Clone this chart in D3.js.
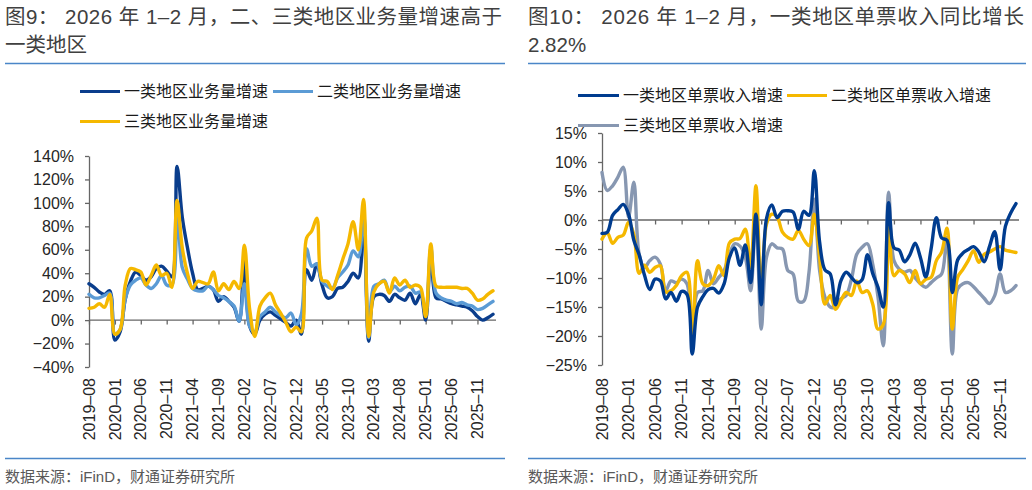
<!DOCTYPE html>
<html>
<head>
<meta charset="utf-8">
<script src="https://cdn.jsdelivr.net/npm/d3@7"></script>
<style>
  html, body { margin: 0; padding: 0; background: #ffffff; }
  svg { display: block; }
</style>
</head>
<body>
<script>
// ---------------- DATA ----------------
const months = [
  "2019-08","2019-09","2019-10","2019-11","2019-12",
  "2020-01","2020-02","2020-03","2020-04","2020-05","2020-06","2020-07","2020-08","2020-09","2020-10","2020-11","2020-12",
  "2021-01","2021-02","2021-03","2021-04","2021-05","2021-06","2021-07","2021-08","2021-09","2021-10","2021-11","2021-12",
  "2022-01","2022-02","2022-03","2022-04","2022-05","2022-06","2022-07","2022-08","2022-09","2022-10","2022-11","2022-12",
  "2023-01","2023-02","2023-03","2023-04","2023-05","2023-06","2023-07","2023-08","2023-09","2023-10","2023-11","2023-12",
  "2024-01","2024-02","2024-03","2024-04","2024-05","2024-06","2024-07","2024-08","2024-09","2024-10","2024-11","2024-12",
  "2025-01","2025-02","2025-03","2025-04","2025-05","2025-06","2025-07","2025-08","2025-09","2025-10","2025-11","2025-12",
  "2026-01","2026-02"
];
const xTickLabels = ["2019-08","2020-01","2020-06","2020-11","2021-04","2021-09","2022-02","2022-07",
  "2022-12","2023-05","2023-10","2024-03","2024-08","2025-01","2025-06","2025-11"];

// Left chart: business volume growth (%)
const volumeTier1 = [31,28,24,22,25,-17,-10,18,33,41,38,34,37,44,46,42,37,131,88,62,40,26,27,29,26,16,20,16,11,-1,
  50,-5,-12,0,5,7,4,1,-2,-5,0,-12,43,34,48,30,19,20,27,28,33,40,36,92,-18,20,22,21,16,22,19,17,23,14,22,0,55,19,18,16,14,13,12,11,8,3,0,2,5];
const volumeTier2 = [22,19,19,21,23,-12,-8,18,30,34,36,30,27,31,38,30,30,95,45,35,27,25,25,29,26,21,19,16,12,-1,
  31,-5,-10,3,7,11,7,4,2,6,-4,5,61,46,48,33,29,27,36,41,47,59,54,88,-15,29,31,34,24,29,25,28,29,23,24,5,62,23,19,17,16,14,15,13,12,9,10,13,16];
const volumeTier3 = [10,11,14,11,22,-12,-8,30,44,43,41,30,38,47,38,40,28,102,62,40,27,33,32,31,41,25,31,26,33,27,
  64,10,-14,12,19,23,13,6,-2,-10,-6,-10,70,76,87,34,33,26,38,52,65,84,60,103,-14,24,31,33,23,36,30,34,28,30,28,3,65,29,28,28,28,28,27,27,23,17,18,22,25];
const volumeTicks = [-40,-20,0,20,40,60,80,100,120,140];

// Right chart: revenue per parcel growth (%)
const revenueTier1 = [-2.3,-2.1,0.8,1.8,2.7,1.0,-3.5,-6.0,-9.5,-12.0,-10.2,-10.5,-13.6,-12.5,-14.0,-12.3,-12.8,-23.1,-15.0,-13.2,
  -12.0,-11.8,-12.6,-11.0,-6.5,-4.8,-7.8,-4.3,-10.8,1.0,-14.6,0.3,2.6,0.4,1.5,1.6,1.4,-1.6,1.5,0.8,8.5,-3.8,-8.6,-9.3,-14.6,
  -10.5,-9.0,-9.9,-10.8,-10.3,-6.0,-9.2,-11.6,-15.0,3.0,-4.8,-5.2,-7.2,-6.0,-4.0,-6.5,-9.8,-5.0,0.4,-3.1,-3.5,-12.5,-6.9,
  -5.7,-5.1,-4.6,-5.5,-7.2,-4.6,-2.0,-8.6,-1.1,1.2,2.82];
const revenueTier2 = [-3.3,-2.2,-4.0,-3.0,-2.6,-0.4,-2.5,-9.2,-7.8,-9.0,-8.2,-7.9,-12.4,-12.2,-11.3,-9.6,-9.0,-20.8,-7.0,-11.0,
  -11.3,-10.2,-7.9,-9.6,-4.0,-3.3,-3.2,-1.6,-8.2,5.9,-12.2,-0.7,1.0,0.5,-2.1,-3.0,-3.3,-1.8,-3.3,-4.4,1.0,-6.4,-14.5,-13.0,-15.4,
  -13.9,-12.5,-13.0,-10.5,-12.5,-12.2,-14.5,-18.8,-18.0,0.0,-9.6,-8.7,-9.3,-10.8,-8.7,-11.0,-10.2,-9.9,-7.0,-5.5,-1.4,-18.8,-9.9,
  -8.5,-7.0,-5.3,-7.3,-5.9,-5.5,-5.0,-4.6,-5.2,-5.4,-5.6];
const revenueTier3 = [8.2,5.1,5.9,7.4,9.1,0.5,6.5,-5.9,-8.2,-7.0,-6.4,-7.6,-12.2,-10.5,-10.8,-10.2,-11.0,-19.1,-12.5,-12.2,
  -8.7,-11.0,-9.9,-8.7,-5.9,-4.1,-4.5,-6.4,-12.2,1.0,-18.8,-6.4,-4.1,-4.8,-5.0,-8.7,-9.3,-14.0,-14.0,-9.0,3.6,-8.7,-13.3,-15.0,-15.0,
  -13.6,-13.0,-10.2,-5.9,-4.7,-4.1,-7.6,-13.3,-21.7,4.8,-7.0,-8.5,-9.0,-8.7,-10.0,-11.0,-11.6,-10.8,-10.0,-9.3,-3.0,-23.1,-11.9,
  -11.0,-10.8,-11.5,-12.5,-13.5,-14.4,-13.0,-9.3,-12.5,-12.2,-11.3];
const revenueTicks = [-25,-20,-15,-10,-5,0,5,10,15];

const volumeNames = ["一类地区业务量增速","二类地区业务量增速","三类地区业务量增速"];
const revenueNames = ["一类地区单票收入增速","二类地区单票收入增速","三类地区单票收入增速"];

// ---------------- DRAW ----------------
const W = 1032, H = 490;
const CJK = "'Noto Sans CJK SC', 'Noto Sans', sans-serif";
const LAT = "'Liberation Sans', Arial, sans-serif";
const MIX = "'Liberation Sans', 'Noto Sans CJK SC', sans-serif";
const svg = d3.select("body").append("svg").attr("width", W).attr("height", H);

const C_DARK = "#0a3d8c", C_LIGHT = "#5b9bd5", C_YELLOW = "#f5b800", C_GRAY = "#8797b1";
const RULE = "#4a86c8";

function minusFmt(v) { return (v < 0 ? "\u2212" + Math.abs(v) : String(v)) + "%"; }

function drawChart(cfg) {
  const g = svg.append("g");
  // title
  cfg.title.forEach((t, k) => {
    const el = g.append("text").attr("x", cfg.left).attr("y", 24 + k * 28)
      .attr("font-family", MIX).attr("font-size", 20.5).attr("fill", "#404040").text(t.s);
    if (t.len) el.attr("textLength", t.len).attr("lengthAdjust", "spacing");
  });
  g.append("line").attr("x1", cfg.left).attr("x2", cfg.right).attr("y1", 63.5).attr("y2", 63.5)
    .attr("stroke", RULE).attr("stroke-width", 1.3);
  g.append("line").attr("x1", cfg.left).attr("x2", cfg.right).attr("y1", 458.5).attr("y2", 458.5)
    .attr("stroke", RULE).attr("stroke-width", 1.3);
  g.append("text").attr("x", cfg.left).attr("y", 482).attr("font-family", MIX).attr("font-size", 15)
    .attr("fill", "#595959").text("数据来源：iFinD，财通证券研究所");

  const x = d3.scalePoint().domain(months).range([cfg.x0, cfg.x1]);
  const y = d3.scaleLinear().domain(cfg.yDomain).range([cfg.yBot, cfg.yTop]);

  // y axis
  const ya = g.append("g").attr("transform", `translate(${cfg.x0},0)`)
    .call(d3.axisLeft(y).tickValues(cfg.yTicks).tickSize(4).tickSizeOuter(0).tickPadding(11).tickFormat(minusFmt));
  ya.select(".domain").attr("stroke", "#666").attr("stroke-width", 1.3);
  ya.selectAll(".tick line").attr("stroke", "#666").attr("stroke-width", 1.3);
  ya.selectAll(".tick text").attr("font-family", LAT).attr("font-size", 16).attr("fill", "#262626");

  // x axis at 0
  const y0 = y(0);
  const xa = g.append("g").attr("transform", `translate(0,${y0})`)
    .call(d3.axisBottom(x).tickValues(xTickLabels).tickSize(4.5).tickSizeOuter(0).tickFormat(""));
  xa.select(".domain").attr("stroke", "#666").attr("stroke-width", 1.3)
    .attr("d", `M${cfg.x0},0H${cfg.x1 + 3}`);
  xa.selectAll(".tick line").attr("stroke", "#666").attr("stroke-width", 1.3);

  // x labels rotated
  g.append("g").selectAll("text").data(xTickLabels).join("text")
    .attr("transform", d => `translate(${x(d)},378) rotate(-90)`)
    .attr("text-anchor", "end").attr("dy", "0.35em")
    .attr("font-family", LAT).attr("font-size", 16).attr("fill", "#262626")
    .text(d => d.replace("-", "\u2013"));

  // series
  const line = d3.line().x((d, i) => x(months[i])).y(d => y(d)).curve(d3.curveCatmullRom.alpha(0.5));
  cfg.series.forEach(s => {
    g.append("path").datum(s.values).attr("d", line).attr("fill", "none")
      .attr("stroke", s.color).attr("stroke-width", 3.4).attr("stroke-linejoin", "round").attr("stroke-linecap", "round");
  });

  // legend
  cfg.legend.forEach(l => {
    g.append("line").attr("x1", l.x).attr("x2", l.x + l.w).attr("y1", l.y).attr("y2", l.y)
      .attr("stroke", l.color).attr("stroke-width", 3);
    g.append("text").attr("x", l.x + l.w + 4).attr("y", l.y).attr("dy", "0.36em")
      .attr("font-family", CJK).attr("font-size", 16).attr("fill", "#1a1a1a").text(l.name);
  });
}

drawChart({
  left: 5, right: 505,
  title: [{ s: "图9： 2026 年 1–2 月，二、三类地区业务量增速高于", len: 497 }, { s: "一类地区" }],
  x0: 89, x1: 493, yTop: 156, yBot: 367,
  yDomain: [-40, 140], yTicks: volumeTicks,
  series: [
    { values: volumeTier1, color: C_DARK },
    { values: volumeTier2, color: C_LIGHT },
    { values: volumeTier3, color: C_YELLOW }
  ],
  legend: [
    { x: 80, y: 91.5, w: 40, color: C_DARK, name: volumeNames[0] },
    { x: 273, y: 91.5, w: 40, color: C_LIGHT, name: volumeNames[1] },
    { x: 80, y: 121.5, w: 40, color: C_YELLOW, name: volumeNames[2] }
  ]
});

drawChart({
  left: 528, right: 1026,
  title: [{ s: "图10：  2026 年 1–2 月，一类地区单票收入同比增长", len: 496 }, { s: "2.82%" }],
  x0: 602, x1: 1016, yTop: 133, yBot: 365,
  yDomain: [-25, 15], yTicks: revenueTicks,
  series: [
    { values: revenueTier3, color: C_GRAY },
    { values: revenueTier2, color: C_YELLOW },
    { values: revenueTier1, color: "#003c8f" }
  ],
  legend: [
    { x: 578, y: 95.5, w: 41, color: "#003c8f", name: revenueNames[0] },
    { x: 787, y: 95.5, w: 40, color: C_YELLOW, name: revenueNames[1] },
    { x: 578, y: 125.5, w: 41, color: C_GRAY, name: revenueNames[2] }
  ]
});
</script>
</body>
</html>
